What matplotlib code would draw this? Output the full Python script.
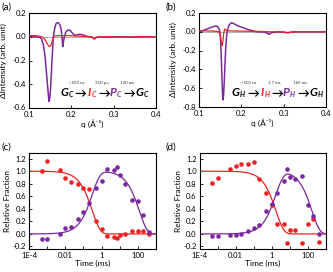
import numpy as np
import matplotlib
matplotlib.use('Agg')
import matplotlib.pyplot as plt

plt.rcParams['font.family'] = ['Lato', 'DejaVu Sans']
plt.rcParams['axes.unicode_minus'] = False

RED = '#ee2222'
PURPLE = '#7a2a9e'

# --- panel (a): difference curves, q in 1/A
QA = [0.100, 0.110, 0.120, 0.126, 0.130, 0.134, 0.138, 0.141, 0.1435, 0.146,
      0.1475, 0.149, 0.1512, 0.1544, 0.1575, 0.1615, 0.164, 0.167, 0.170, 0.173,
      0.176, 0.178, 0.1797, 0.1815, 0.1835, 0.187, 0.1915, 0.1946, 0.198, 0.201,
      0.205, 0.209, 0.2125, 0.217, 0.222, 0.228, 0.234, 0.240, 0.248, 0.2515,
      0.2544, 0.2575, 0.262, 0.270, 0.290, 0.320, 0.350, 0.380, 0.400]
PURPLE_A = [0.0, 0.0, -0.002, -0.005, -0.02, -0.07, -0.167, -0.29, -0.40, -0.50,
            -0.545, -0.52, -0.42, -0.196, 0.0, 0.085, 0.11, 0.12, 0.115, 0.10,
            0.06, 0.0, -0.084, -0.04, 0.0, 0.04, 0.055, 0.057, 0.05, 0.037,
            0.02, 0.013, 0.015, 0.02, 0.02, 0.015, 0.005, 0.0, 0.0, -0.01,
            -0.02, -0.01, -0.002, 0.0, -0.003, 0.0, -0.002, 0.0, 0.0]
QA_RED = [0.100, 0.110, 0.120, 0.130, 0.136, 0.141, 0.145, 0.1485, 0.1510, 0.154,
          0.157, 0.160, 0.170, 0.180, 0.190, 0.200, 0.215, 0.230, 0.245, 0.2515,
          0.2545, 0.258, 0.270, 0.300, 0.330, 0.360, 0.400]
RED_A = [0.008, 0.01, 0.008, 0.0, -0.015, -0.045, -0.07, -0.082, -0.078, -0.05,
         -0.015, 0.005, 0.01, 0.008, 0.01, 0.008, 0.005, 0.003, 0.0, -0.008,
         -0.013, -0.005, 0.0, 0.0, -0.003, 0.0, 0.0]

# --- panel (b)
QB = [0.100, 0.108, 0.117, 0.124, 0.129, 0.134, 0.1395, 0.143, 0.146, 0.149,
      0.1505, 0.152, 0.154, 0.1555, 0.1567, 0.158, 0.1599, 0.1615, 0.163, 0.1645,
      0.166, 0.168, 0.171, 0.1764, 0.182, 0.188, 0.196, 0.204, 0.212, 0.220,
      0.228, 0.2355, 0.245, 0.2553, 0.261, 0.2655, 0.271, 0.280, 0.290, 0.300,
      0.310, 0.318, 0.330, 0.350, 0.370, 0.400]
PURPLE_B = [0.0, 0.01, 0.027, 0.038, 0.048, 0.055, 0.062, 0.058, 0.045, 0.01,
            -0.05, -0.20, -0.45, -0.65, -0.725, -0.68, -0.51, -0.33, -0.19, -0.08,
            -0.016, 0.03, 0.072, 0.097, 0.088, 0.072, 0.056, 0.044, 0.03, 0.019,
            0.01, 0.0, 0.0, -0.004, -0.015, -0.027, -0.01, -0.003, 0.0, -0.005,
            -0.01, -0.003, 0.0, 0.0, 0.0, 0.0]
QB_RED = [0.100, 0.115, 0.130, 0.140, 0.147, 0.150, 0.152, 0.1535, 0.1550, 0.1565,
          0.158, 0.1595, 0.161, 0.163, 0.167, 0.175, 0.190, 0.210, 0.230, 0.250,
          0.270, 0.290, 0.305, 0.310, 0.315, 0.330, 0.360, 0.400]
RED_B = [0.01, 0.01, 0.008, 0.005, 0.0, -0.03, -0.09, -0.14, -0.145, -0.10,
         -0.03, 0.01, 0.03, 0.02, 0.01, 0.01, 0.008, 0.006, 0.005, 0.003,
         0.0, 0.0, -0.005, -0.01, -0.005, 0.0, 0.0, 0.0]

# --- panels (c), (d): relative fractions vs time (ms)
TIME_MS = [5e-4, 1e-3, 5e-3, 1e-2, 2e-2, 5e-2, 0.1, 0.2, 0.5, 1,
           2, 5, 7, 10, 20, 50, 100, 200, 400]
RED_C = [1.01, 1.16, 1.02, 0.89, 0.82, 0.80, 0.73, 0.71, 0.21, 0.08,
         -0.04, -0.05, -0.06, -0.02, 0.0, 0.05, 0.05, 0.04, 0.0]
PURPLE_C = [-0.08, -0.08, 0.0, 0.09, 0.11, 0.24, 0.35, 0.50, 0.74, 0.85,
            1.03, 1.02, 1.07, 0.94, 0.80, 0.54, 0.53, 0.30, 0.03]
RED_D = [0.81, 0.89, 1.04, 1.08, 1.12, 1.11, 1.14, 0.88, 0.65, 0.46,
         0.16, 0.16, -0.14, 0.06, 0.07, -0.14, 0.16, 0.24, -0.13]
PURPLE_D = [-0.04, -0.03, -0.02, -0.02, 0.0, 0.04, 0.10, 0.15, 0.36, 0.47,
            0.65, 0.84, 1.04, 0.90, 0.88, 0.92, 0.46, 0.28, 0.0]

# time constants (ms) of the sequential model I -> P -> G
TAU_C = (0.31, 120.0)
TAU_D = (1.7, 165.0)

Q_TICKS = [0.1, 0.2, 0.3, 0.4]
YA_TICKS = [-0.6, -0.4, -0.2, 0.0, 0.2]
YB_TICKS = [-0.8, -0.6, -0.4, -0.2, 0.0, 0.2]
YF_TICKS = [-0.2, 0.0, 0.2, 0.4, 0.6, 0.8, 1.0, 1.2]
T_TICKS = [1e-4, 1e-3, 1e-2, 1e-1, 1, 10, 100, 1000]
T_LABELS = ['1E-4', '', '0.01', '', '1', '', '100', '']

W, H = 333, 272
fig = plt.figure(figsize=(W / 100, H / 100), dpi=100)


def axes_px(left, top, right, bottom):
    return fig.add_axes([left / W, 1 - bottom / H, (right - left) / W, (bottom - top) / H])


def style(ax):
    ax.tick_params(direction='in', length=2.5, width=0.6, labelsize=5.5, pad=2)
    for s in ax.spines.values():
        s.set_linewidth(0.8)


def px(x, y):
    return x / W, 1 - y / H


# letter widths (px) used to place the subscripts next to each letter
LETTER_W = {'G': 7.5, 'I': 3.5, 'P': 6.5}


def scheme(items, base_y, times, time_x, time_y):
    for letter, sub, color, x in items:
        fig.text(*px(x, base_y), letter, color=color, fontsize=8.5,
                 fontweight='bold', fontstyle='italic', ha='left', va='baseline')
        if sub:
            fig.text(*px(x + LETTER_W[letter], base_y + 1), sub, color=color, fontsize=5,
                     fontweight='bold', fontstyle='italic', ha='left', va='baseline')
    for lab, x in zip(times, time_x):
        fig.text(*px(x, time_y), lab, fontsize=3.2, color='#333333', ha='center', va='center')


def q_panel(box, curves, yticks):
    ax = axes_px(*box)
    ax.axhline(0, color='#b5b5b5', lw=0.8, zorder=1)
    for q, v, color, lw, z in curves:
        ax.plot(q, v, color=color, lw=lw, zorder=z)
    ax.set_xlim(0.1, 0.4)
    ax.set_ylim(yticks[0], yticks[-1])
    ax.set_xticks(Q_TICKS)
    ax.set_xticklabels([f'{v:.1f}' for v in Q_TICKS])
    ax.set_yticks(yticks)
    style(ax)
    # y tick labels as plain texts next to the axis
    ax.tick_params(axis='y', labelleft=False)
    for v in yticks:
        ax.text(-0.025, v, f'{v:.1f}', transform=ax.get_yaxis_transform(),
                ha='right', va='center', fontsize=5.5, clip_on=False)
    ax.set_xlabel('q (Å⁻¹)', fontsize=6, labelpad=1)
    ax.set_ylabel('ΔIntensity (arb. unit)', fontsize=6)
    ax.yaxis.set_label_coords(-0.17, 0.5)
    return ax


q_panel((29, 13, 156, 108),
        [(QA, PURPLE_A, PURPLE, 1.1, 2), (QA_RED, RED_A, RED, 0.9, 3)], YA_TICKS)
q_panel((199, 13, 326, 107),
        [(QB, PURPLE_B, PURPLE, 1.1, 2), (QB_RED, RED_B, RED, 0.9, 3)], YB_TICKS)

scheme([('G', 'C', 'black', 61), ('→', None, 'black', 74), ('I', 'C', RED, 88),
        ('→', None, 'black', 98), ('P', 'C', PURPLE, 110), ('→', None, 'black', 123),
        ('G', 'C', 'black', 136)], 96,
       ['<500 ns', '310 µs', '120 ms'], [77, 102, 127], 83)
scheme([('G', 'H', 'black', 232), ('→', None, 'black', 247), ('I', 'H', RED, 261),
        ('→', None, 'black', 271), ('P', 'H', PURPLE, 283), ('→', None, 'black', 297),
        ('G', 'H', 'black', 310)], 96,
       ['<500 ns', '1.7 ms', '165 ms'], [249, 274, 300], 83)

# (c), (d)
t_fit = np.logspace(-4, 3, 400)
panels = [(29, 156, RED_C, PURPLE_C, TAU_C), (199.5, 326, RED_D, PURPLE_D, TAU_D)]
for left, right, red, pur, (t1, t2) in panels:
    ax = axes_px(left, 153, right, 249)
    red_fit = np.exp(-t_fit / t1)
    pur_fit = t2 / (t2 - t1) * (np.exp(-t_fit / t2) - np.exp(-t_fit / t1))
    ax.plot(t_fit, red_fit, color=RED, lw=0.9)
    ax.plot(t_fit, pur_fit, color=PURPLE, lw=0.9)
    ax.plot(TIME_MS, red, 'o', color=RED, ms=3.3, mew=0)
    ax.plot(TIME_MS, pur, 'o', color=PURPLE, ms=3.3, mew=0)
    ax.set_xscale('log')
    ax.set_xlim(1e-4, 1e3)
    ax.set_ylim(-0.24, 1.29)
    ax.set_xticks(T_TICKS)
    ax.set_xticklabels(T_LABELS)
    ax.xaxis.set_minor_locator(matplotlib.ticker.NullLocator())
    ax.set_yticks(YF_TICKS)
    ax.set_yticklabels([f'{v:.1f}' for v in YF_TICKS])
    ax.set_xlabel('Time (ms)', fontsize=6, labelpad=1)
    ax.set_ylabel('Relative Fraction', fontsize=6, labelpad=1)
    style(ax)

for lab, x, y in [('(a)', 1, 7), ('(b)', 166, 7), ('(c)', 1, 147), ('(d)', 166, 147)]:
    fig.text(*px(x, y), lab, fontsize=7, ha='left', va='center')

fig.savefig('out.png', dpi=100)
